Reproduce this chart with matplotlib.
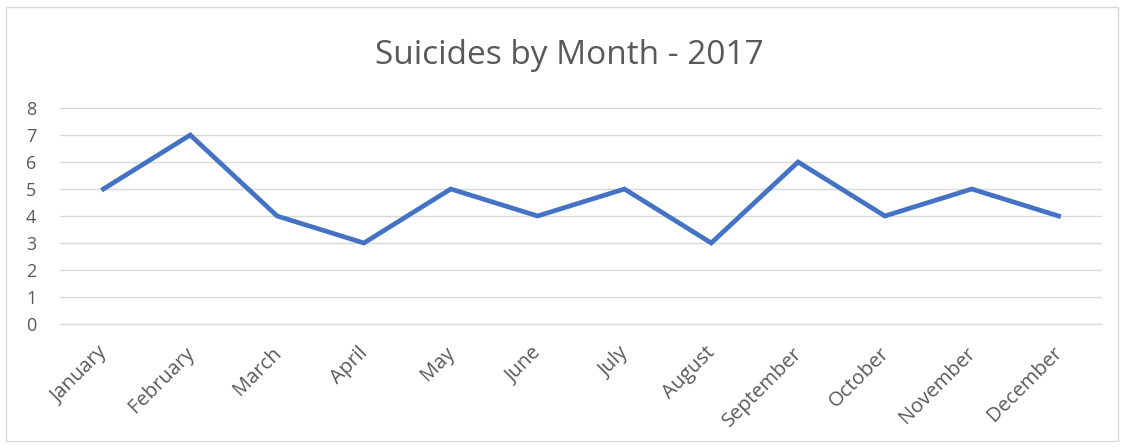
import matplotlib.pyplot as plt
import matplotlib.transforms as mtransforms
from matplotlib.patches import Rectangle

months = ['January', 'February', 'March', 'April', 'May', 'June', 'July',
          'August', 'September', 'October', 'November', 'December']
suicides = [5, 7, 4, 3, 5, 4, 5, 3, 6, 4, 5, 4]
yticks = [0, 1, 2, 3, 4, 5, 6, 7, 8]

plt.rcParams['font.family'] = ['Open Sans', 'DejaVu Sans']

fig = plt.figure(figsize=(11.26, 4.48), dpi=100)
fig.patches.append(Rectangle((6 / 1126, 7 / 448), 1112 / 1126, 434 / 448,
                             transform=fig.transFigure, fill=False,
                             edgecolor='#d9d9d9', linewidth=1))

ax = fig.add_axes([60 / 1126, 124 / 448, 1042 / 1126, 216 / 448])
x = list(range(len(months)))
ax.plot(x, suicides, color='#4472C4', linewidth=3.4, solid_joinstyle='miter')

ax.set_xlim(-0.5, len(months) - 0.5)
ax.set_ylim(0, 8)
ax.set_yticks(yticks)
ax.set_xticks(x)
ax.set_xticklabels(months, rotation=45, ha='right', va='top',
                   rotation_mode='anchor', fontsize=14.5)
ax.tick_params(axis='both', length=0, colors='#595959')
ax.tick_params(axis='y', labelsize=13, pad=17)
ax.tick_params(axis='x', pad=13)
# nudge the slanted month labels a little to the left
shift = mtransforms.ScaledTranslation(-6 / 100, -1 / 100, fig.dpi_scale_trans)
for lbl in ax.get_xticklabels():
    lbl.set_transform(lbl.get_transform() + shift)
ax.grid(True, axis='y', color='#d9d9d9', linewidth=1)
ax.set_axisbelow(True)
for s in ax.spines.values():
    s.set_visible(False)
ax.spines['bottom'].set_visible(True)
ax.spines['bottom'].set_color('#d9d9d9')

fig.text(569 / 1126, 1 - 55 / 448, 'Suicides by Month - 2017', ha='center',
         va='center', fontsize=24, color='#595959')

plt.savefig('out.png', dpi=100)
